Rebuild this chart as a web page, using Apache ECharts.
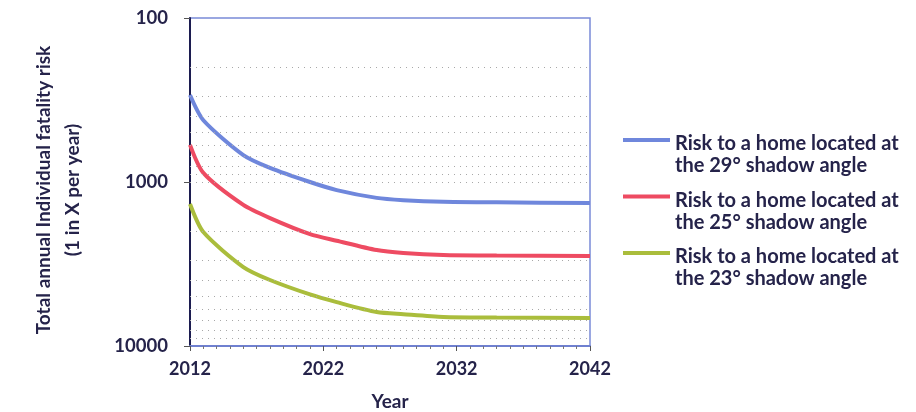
<!DOCTYPE html>
<html>
<head>
<meta charset="utf-8">
<script src="https://cdn.jsdelivr.net/npm/echarts@6/dist/echarts.min.js"></script>
<style>
  html, body { margin: 0; padding: 0; background: #fff; }
  #chart { width: 916px; height: 412px; }
</style>
</head>
<body>
<div id="chart"></div>
<script>
  // values (1 in X per year)
  const years = [2012, 2013, 2016, 2018, 2021, 2023, 2026, 2028, 2031, 2035, 2042]
  const risk29 = [295, 420, 685, 820, 1000, 1120, 1250, 1290, 1320, 1330, 1345]
  const risk25 = [594, 880, 1380, 1660, 2080, 2280, 2600, 2710, 2790, 2810, 2830]
  const risk23 = [1362, 2020, 3300, 3960, 4850, 5400, 6210, 6400, 6650, 6700, 6750]
  const seriesNames = [
    'Risk to a home located at\nthe 29° shadow angle',
    'Risk to a home located at\nthe 25° shadow angle',
    'Risk to a home located at\nthe 23° shadow angle'
  ]
  const gridValues = [200, 300, 400, 500, 600, 700, 800, 900, 1000,
    2000, 3000, 4000, 5000, 6000, 7000, 8000, 9000]

  const textColor = '#25234a'
  const font = 'Lato'

  const chart = echarts.init(document.getElementById('chart'))

  function pairs (vals) {
    return years.map((y, i) => [y, vals[i]])
  }

  chart.setOption({
    animation: false,
    textStyle: { fontFamily: font, color: textColor },
    grid: {
      left: 190,
      right: 326,
      top: 18,
      bottom: 66,
      outerBoundsMode: 'none',
      show: true,
      borderColor: '#7a8ad8',
      borderWidth: 1.5
    },
    legend: {
      orient: 'vertical',
      left: 623,
      top: 103,
      padding: 0,
      itemWidth: 47,
      itemHeight: 4,
      itemGap: -17.5,
      icon: 'rect',
      // tall blank first line so the icon sits level with the first text line
      formatter: name => '{gap|}\n' + name,
      textStyle: {
        fontFamily: font,
        fontWeight: 'bold',
        fontSize: 20,
        color: textColor,
        lineHeight: 22,
        rich: {
          gap: { lineHeight: 30, fontSize: 20 }
        }
      },
      data: seriesNames
    },
    xAxis: {
      type: 'value',
      min: 2012,
      max: 2042,
      interval: 10,
      name: 'Year',
      nameLocation: 'middle',
      nameGap: 46,
      nameTextStyle: { fontFamily: font, fontWeight: 'bold', fontSize: 19, color: textColor },
      axisLine: { lineStyle: { color: '#6f80d0', width: 2 } },
      axisTick: { show: true, length: 5, inside: false, lineStyle: { color: '#555' } },
      minorTick: { show: true, splitNumber: 10, length: 3, lineStyle: { color: '#777' } },
      splitLine: { show: false },
      axisLabel: {
        margin: 14,
        fontFamily: font,
        fontWeight: 'bold',
        fontSize: 18,
        color: textColor,
        formatter: v => String(v)
      }
    },
    yAxis: {
      type: 'log',
      logBase: 10,
      min: 100,
      max: 10000,
      inverse: true,
      name: 'Total annual Individual fatality risk\n(1 in X per year)',
      nameLocation: 'middle',
      nameGap: 103,
      nameRotate: 90,
      nameTextStyle: {
        fontFamily: font,
        fontWeight: 'bold',
        fontSize: 19,
        color: textColor,
        lineHeight: 29,
        padding: [0, 16, 0, 0]
      },
      axisLine: { show: true, lineStyle: { color: '#1c1c50', width: 2 } },
      axisTick: { show: true, length: 6, lineStyle: { color: '#555' } },
      splitLine: { show: false },
      axisLabel: {
        margin: 22,
        fontFamily: font,
        fontWeight: 'bold',
        fontSize: 18.5,
        color: textColor,
        formatter: v => String(Math.round(v))
      }
    },
    series: [
      {
        name: seriesNames[0],
        type: 'line',
        data: pairs(risk29),
        showSymbol: false,
        smooth: 0.25,
        lineStyle: { width: 4, color: '#6f87dc' },
        itemStyle: { color: '#6f87dc' },
        markLine: {
          silent: true,
          symbol: 'none',
          label: { show: false },
          lineStyle: { color: '#a8a8a8', type: [1, 5], width: 1 },
          data: gridValues.map(v => ({ yAxis: v }))
        },
        z: 3
      },
      {
        name: seriesNames[1],
        type: 'line',
        data: pairs(risk25),
        showSymbol: false,
        smooth: 0.25,
        lineStyle: { width: 4, color: '#ee4b62' },
        itemStyle: { color: '#ee4b62' },
        z: 3
      },
      {
        name: seriesNames[2],
        type: 'line',
        data: pairs(risk23),
        showSymbol: false,
        smooth: 0.25,
        lineStyle: { width: 4, color: '#aabd3c' },
        itemStyle: { color: '#aabd3c' },
        z: 3
      }
    ]
  })
</script>
</body>
</html>
